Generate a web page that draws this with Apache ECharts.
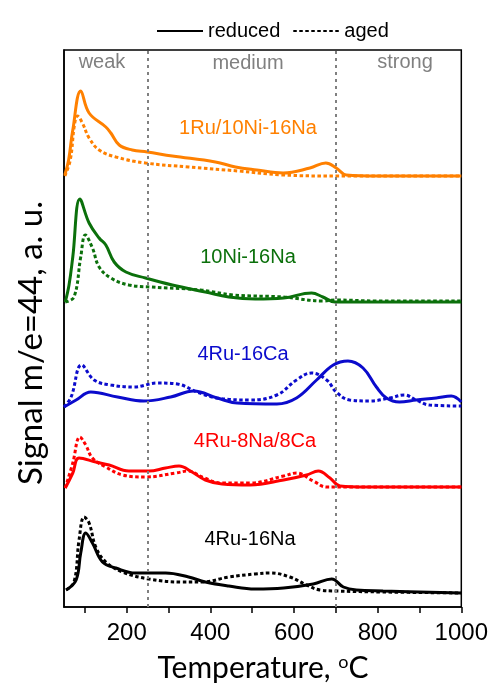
<!DOCTYPE html>
<html>
<head>
<meta charset="utf-8">
<script src="https://cdn.jsdelivr.net/npm/echarts@6/dist/echarts.min.js"></script>
<style>
  html, body { margin: 0; padding: 0; background: #fff; }
  #chart { width: 491px; height: 684px; }
</style>
</head>
<body>
<div id="chart"></div>
<script>
// CO2 desorption (m/e = 44) profiles, each sample shifted up by its own offset.
// Temperatures in °C, signal in arbitrary units (offset included).

// 1Ru/10Ni-16Na
const ruNiNaRedT = [52, 61, 71, 90, 110, 150, 162, 182, 213, 249, 309, 412, 460, 511, 574, 638, 676, 701, 725, 800, 900, 1000];
const ruNiNaRedS = [432, 447, 477, 516, 494, 480, 474, 462, 457, 455, 451, 445, 440, 437, 434, 439, 444, 439, 432, 431, 431, 431];
const ruNiNaAgedT = [52, 65, 75, 82, 94, 110, 134, 174, 245, 348, 467, 574, 701, 850, 1000];
const ruNiNaAgedS = [431, 447, 482, 491, 484, 469, 457, 450, 444, 440, 436, 432, 431, 431, 431];

// 10Ni-16Na
const niNaRedT = [53, 62, 71, 88, 110, 134, 150, 170, 198, 245, 309, 388, 444, 507, 575, 642, 669, 698, 800, 1000];
const niNaRedS = [305, 322, 350, 408, 384, 369, 362, 345, 335, 329, 322, 315, 310, 308, 309, 314, 310, 305, 305, 305];
const niNaAgedT = [53, 74, 90, 101, 118, 134, 162, 205, 257, 376, 455, 574, 669, 701, 800, 1000];
const niNaAgedS = [305, 310, 350, 372, 359, 340, 329, 322, 320, 317, 312, 310, 306, 307, 306, 306];

// 4Ru-16Ca
const ruCaRedT = [50, 79, 114, 178, 241, 305, 360, 416, 464, 559, 606, 654, 694, 729, 765, 797, 821, 852, 892, 940, 976, 1000];
const ruCaRedS = [200, 207, 215, 210, 206, 210, 216, 209, 204, 203, 209, 227, 242, 246, 239, 220, 209, 205, 207, 209, 211, 205];
const ruCaAgedT = [50, 67, 92, 122, 162, 217, 273, 321, 368, 416, 495, 559, 606, 642, 678, 701, 733, 781, 829, 864, 892, 924, 1000];
const ruCaAgedS = [200, 210, 242, 227, 222, 220, 224, 223, 215, 209, 207, 212, 227, 234, 227, 215, 207, 206, 209, 212, 207, 202, 201];

// 4Ru-8Na/8Ca
const ruNaCaRedT = [53, 71, 86, 126, 158, 205, 253, 293, 325, 356, 388, 428, 495, 575, 630, 658, 686, 710, 773, 1000];
const ruNaCaRedS = [119, 134, 149, 145, 142, 136, 136, 139, 141, 135, 127, 123, 122, 127, 132, 136, 129, 121, 120, 120];
const ruNaCaAgedT = [53, 71, 88, 102, 118, 150, 190, 245, 317, 348, 380, 428, 495, 575, 606, 646, 678, 701, 1000];
const ruNaCaAgedS = [119, 144, 170, 162, 149, 140, 132, 130, 134, 136, 130, 124, 124, 131, 134, 126, 120, 120, 120];

// 4Ru-16Na
const ruNaRedT = [55, 79, 90, 102, 118, 142, 174, 221, 293, 348, 388, 444, 507, 575, 646, 690, 718, 749, 813, 1000];
const ruNaRedS = [17, 27, 54, 74, 64, 45, 39, 34, 34, 30, 25, 21, 18, 19, 23, 28, 20, 17, 16, 14];
const ruNaAgedT = [55, 74, 86, 98, 110, 126, 150, 190, 253, 332, 380, 444, 507, 543, 590, 630, 662, 701, 813, 1000];
const ruNaAgedS = [17, 25, 67, 90, 84, 60, 45, 35, 28, 25, 25, 30, 33, 34, 30, 22, 17, 16, 15, 14];

// Sample names and colours
const samples = ['1Ru/10Ni-16Na', '10Ni-16Na', '4Ru-16Ca', '4Ru-8Na/8Ca', '4Ru-16Na'];
const colors = ['#ff8000', '#0b700b', '#0b0bcc', '#ff0000', '#000000'];

// Acidity region boundaries and names
const regionBounds = [250, 700];
const regionNames = ['weak', 'medium', 'strong'];

// Axis ticks
const xTicks = [100, 200, 300, 400, 500, 600, 700, 800, 900, 1000];
const xTickLabels = [200, 400, 600, 800, 1000];

const zip = (t, s) => t.map((v, i) => [v, s[i]]);

const curves = [
  [ruNiNaRedT, ruNiNaRedS, ruNiNaAgedT, ruNiNaAgedS],
  [niNaRedT, niNaRedS, niNaAgedT, niNaAgedS],
  [ruCaRedT, ruCaRedS, ruCaAgedT, ruCaAgedS],
  [ruNaCaRedT, ruNaCaRedS, ruNaCaAgedT, ruNaCaAgedS],
  [ruNaRedT, ruNaRedS, ruNaAgedT, ruNaAgedS]
];

const LW = 3;
const DOT = [3.5, 2.5];
const SMOOTH = 0.4;

const series = [];
// legend-only entries
series.push({ name: 'reduced', type: 'line', data: [], symbol: 'none', lineStyle: { color: '#000', width: LW, type: 'solid' }, itemStyle: { color: '#000' } });
series.push({ name: 'aged', type: 'line', data: [], symbol: 'none', lineStyle: { color: '#000', width: LW, type: DOT }, itemStyle: { color: '#000' } });

curves.forEach((c, i) => {
  series.push({
    name: samples[i] + ' aged', type: 'line', data: zip(c[2], c[3]),
    symbol: 'none', smooth: SMOOTH, silent: true,
    lineStyle: { color: colors[i], width: LW, type: DOT }
  });
  series.push({
    name: samples[i] + ' reduced', type: 'line', data: zip(c[0], c[1]),
    symbol: 'none', smooth: SMOOTH, silent: true,
    lineStyle: { color: colors[i], width: LW, type: 'solid' }
  });
});

// region boundaries
series.push({
  name: 'bounds', type: 'line', data: [], silent: true,
  markLine: {
    symbol: 'none', silent: true, animation: false,
    label: { show: false },
    lineStyle: { color: '#808080', width: 2, type: [3, 4] },
    data: regionBounds.map(v => ({ xAxis: v }))
  }
});

const SANS = '"Liberation Sans", Arial, sans-serif';
const TITLE = 'Lato, "Open Sans", sans-serif';

const labelPos = [[248, 128], [248, 257], [243, 354], [255, 441], [250, 539]];
const regionPos = [[102, 62], [248, 63], [405, 62]];

const graphic = [];
samples.forEach((s, i) => {
  graphic.push({ type: 'text', x: labelPos[i][0], y: labelPos[i][1], silent: true,
    style: { text: s, fill: colors[i], fontSize: 20, fontFamily: SANS, align: 'center', verticalAlign: 'middle' } });
});
regionNames.forEach((s, i) => {
  graphic.push({ type: 'text', x: regionPos[i][0], y: regionPos[i][1], silent: true,
    style: { text: s, fill: '#808080', fontSize: 20, fontFamily: SANS, align: 'center', verticalAlign: 'middle' } });
});
graphic.push({ type: 'text', x: 31, y: 343, rotation: Math.PI / 2, silent: true,
  style: { text: 'Signal m/e=44, a. u.', fill: '#000', fontSize: 33, fontFamily: TITLE, align: 'center', verticalAlign: 'middle' } });
graphic.push({ type: 'text', x: 263, y: 668, silent: true,
  style: { text: 'Temperature, {sup|o}C', fill: '#000', fontSize: 30, fontFamily: TITLE, align: 'center', verticalAlign: 'middle',
    rich: { sup: { fontSize: 18, fontFamily: TITLE, fill: '#000', verticalAlign: 'top', padding: [0, 0, 12, 0] } } } });

const chart = echarts.init(document.getElementById('chart'), null, { renderer: 'canvas' });
chart.setOption({
  animation: false,
  backgroundColor: '#fff',
  grid: { left: 64, right: 29, top: 50, bottom: 77, show: true, borderColor: '#000', borderWidth: 1.5, containLabel: false },
  legend: {
    data: ['reduced', 'aged'], left: 151, top: 16, itemWidth: 46, itemHeight: 14, itemGap: 12,
    itemStyle: { opacity: 0 },
    textStyle: { fontSize: 20, fontFamily: SANS, color: '#000' }, selectedMode: false
  },
  xAxis: {
    type: 'value', min: 50, max: 1000,
    axisLine: { show: true, lineStyle: { color: '#000', width: 1.5 } },
    axisTick: { show: true, customValues: xTicks, length: 6, lineStyle: { color: '#000', width: 1.5 } },
    axisLabel: { customValues: xTickLabels, fontSize: 24, fontFamily: SANS, color: '#000', margin: 14, formatter: v => String(v) },
    splitLine: { show: false }
  },
  yAxis: {
    type: 'value', min: 0, max: 557,
    axisLine: { show: true, lineStyle: { color: '#000', width: 1.5 } },
    axisTick: { show: false }, axisLabel: { show: false }, splitLine: { show: false }
  },
  series: series,
  graphic: graphic
});
</script>
</body>
</html>
